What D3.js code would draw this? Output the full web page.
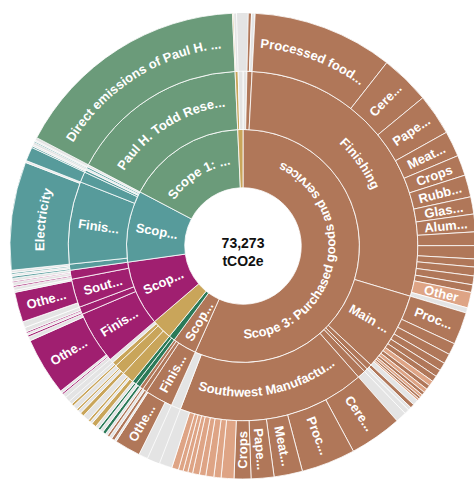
<!DOCTYPE html>
<html>
<head>
<meta charset="utf-8">
<script src="https://cdn.jsdelivr.net/npm/d3@7"></script>
<style>
  body { margin: 0; background: #fff; }
  svg { display: block; font-family: "Liberation Sans", Arial, sans-serif; }
  .label { fill: #fff; font-weight: 700; font-size: 13px; pointer-events: none; }
  .total { fill: #111; font-weight: 700; font-size: 14px; }
</style>
</head>
<body>
<div id="chart"></div>
<script>
// rows: [site, item, tCO2e, basis]; item null = site without breakdown
const purchasedGoods = [
  ["Minor sites", null, 265],
  ["Paul H. Todd Research Center", "Laboratory supplies", 163],
  ["Paul H. Todd Research Center", "Minor items", 183],
  ["Finishing", "Processed food products", 7145],
  ["Finishing", "Cereals and grains", 2524],
  ["Finishing", "Paper and packaging", 2096],
  ["Finishing", "Meats and poultry", 1303],
  ["Finishing", "Crops", 1038],
  ["Finishing", "Rubber and plastics", 1119],
  ["Finishing", "Glass products", 875],
  ["Finishing", "Aluminum products", 896],
  ["Finishing", "Chemicals", 692],
  ["Finishing", "Dairy products", 672],
  ["Finishing", "Textiles", 407],
  ["Finishing", "Machinery parts", 448],
  ["Finishing", "Office supplies", 448],
  ["Finishing", "Cleaning products", 387],
  ["Finishing", "Other", 794, "spend"],
  ["Finishing", "Minor items", 265],
  ["Main Production Facility", "Processed food products", 1649],
  ["Main Production Facility", "Cereals and grains", 590],
  ["Main Production Facility", "Paper and packaging", 509],
  ["Main Production Facility", "Meats and poultry", 407],
  ["Main Production Facility", "Crops", 366],
  ["Main Production Facility", "Rubber and plastics", 305],
  ["Main Production Facility", "Other", 265, "spend"],
  ["Main Production Facility", "Glass products", 224],
  ["Main Production Facility", "Chemicals", 204, "spend"],
  ["Main Production Facility", "Aluminum products", 163],
  ["Main Production Facility", "Textiles", 142, "spend"],
  ["Main Production Facility", "Dairy products", 122],
  ["Main Production Facility", "Cleaning products", 102, "spend"],
  ["Main Production Facility", "Minor items", 285],
  ["Warehouse", "Packaging", 204],
  ["Warehouse", "Minor items", 163],
  ["Office", "Minor items", 244],
  ["Distribution center", "Minor items", 550],
  ["Southwest Manufacturing", "Cereals and grains", 2666],
  ["Southwest Manufacturing", "Processed food products", 2748],
  ["Southwest Manufacturing", "Meats and poultry", 1445],
  ["Southwest Manufacturing", "Paper and packaging", 1160],
  ["Southwest Manufacturing", "Crops", 855],
  ["Southwest Manufacturing", "Other food products", 651, "spend"],
  ["Southwest Manufacturing", "Dairy products", 366, "spend"],
  ["Southwest Manufacturing", "Rubber and plastics", 407, "spend"],
  ["Southwest Manufacturing", "Glass products", 326, "spend"],
  ["Southwest Manufacturing", "Aluminum products", 346, "spend"],
  ["Southwest Manufacturing", "Chemicals", 244, "spend"],
  ["Southwest Manufacturing", "Textiles", 244, "spend"],
  ["Southwest Manufacturing", "Machinery parts", 244, "spend"],
  ["Southwest Manufacturing", "Office supplies", 346, "spend"],
  ["Southwest Manufacturing", "Minor items", 651],
  ["Minor sites", null, 651]
]

const capitalGoods = [
  ["Finishing", "Minor items", 468],
  ["Finishing", "Other machinery", 1323],
  ["Finishing", "Minor items", 102],
  ["Southwest Manufacturing", "Equipment", 163],
  ["Southwest Manufacturing", "Minor items", 142],
  ["Main Production Facility", "Equipment", 122],
  ["Main Production Facility", "Minor items", 122]
]

const wasteRows = [
  ["Finishing", "Landfill", 163],
  ["Finishing", "Minor items", 163],
  ["Southwest Manufacturing", "Landfill", 122],
  ["Southwest Manufacturing", "Minor items", 163]
]

const transportRows = [
  ["Finishing", "Road freight", 244],
  ["Finishing", "Minor items", 122],
  ["Finishing", "Rail freight", 122],
  ["Finishing", "Minor items", 326],
  ["Southwest Manufacturing", "Road freight", 204],
  ["Southwest Manufacturing", "Minor items", 163],
  ["Southwest Manufacturing", "Sea freight", 102],
  ["Southwest Manufacturing", "Minor items", 244],
  ["Main Production Facility", "Road freight", 122],
  ["Main Production Facility", "Minor items", 183],
  ["Minor sites", null, 265]
]

const fuelEnergyRows = [
  ["Finishing", "Minor items", 204],
  ["Finishing", "Electricity T&D losses", 81],
  ["Finishing", "Minor items", 122],
  ["Finishing", "Other fuels", 2951],
  ["Finishing", "Minor items", 204],
  ["Main Production Facility", "Natural gas", 102],
  ["Main Production Facility", "Minor items", 102],
  ["Main Production Facility", "Natural gas upstream", 81],
  ["Main Production Facility", "Minor items", 224],
  ["Southwest Manufacturing", "Minor items", 305],
  ["Southwest Manufacturing", "Other fuels", 1527],
  ["Southwest Manufacturing", "Minor items", 102],
  ["Paul H. Todd Research Center", "Minor items", 163],
  ["Paul H. Todd Research Center", "Electricity T&D losses", 81],
  ["Paul H. Todd Research Center", "Minor items", 163],
  ["Paul H. Todd Research Center", "Natural gas", 61],
  ["Paul H. Todd Research Center", "Minor items", 142]
]

const electricityRows = [
  ["Main Production Facility", "Electricity", 102],
  ["Main Production Facility", "Minor items", 102],
  ["Main Production Facility", "Electricity", 81],
  ["Main Production Facility", "Minor items", 122],
  ["Finishing", "Electricity", 5495],
  ["Finishing", "Minor items", 102],
  ["Southwest Manufacturing", "Electricity", 712],
  ["Paul H. Todd Research Center", "Electricity", 81],
  ["Paul H. Todd Research Center", "Minor items", 81],
  ["Minor sites", null, 122],
  ["Warehouse", "Electricity", 61],
  ["Warehouse", "Minor items", 61],
  ["Minor sites", null, 142]
]

const directRows = [
  ["Paul H. Todd Research Center", "Direct emissions of Paul H. Todd Research Center", 12151]
]

const travelRows = [
  ["Paul H. Todd Research Center", "Air travel", 61],
  ["Paul H. Todd Research Center", "Minor items", 142],
  ["Minor sites", null, 326]
]

const scopeNames = [
  "Scope 3: Purchased goods and services",
  "Scope 3: Capital goods",
  "Scope 3: Waste generated in operations",
  "Scope 3: Upstream transportation and distribution",
  "Scope 3: Fuel- and energy-related activities",
  "Scope 2: Purchased electricity",
  "Scope 1: Direct emissions",
  "Scope 3: Business travel"
]
const scopeRows = [purchasedGoods, capitalGoods, wasteRows, transportRows,
  fuelEnergyRows, electricityRows, directRows, travelRows]
const unit = "tCO2e"

const width = 474
const height = 479
const cx = 243
const cy = 246
const radius = 233
const ringW = radius / 4

const scopeColor = d3.scaleOrdinal()
  .domain(scopeNames)
  .range(["#b07759", "#b07759", "#2b7a58", "#c9a55a", "#a01f70", "#579b9b", "#6b9b7a", "#c9a55a"])
const spendColor = "#dea485"
const minorColor = "#e4e4e4"

function buildScope(name, rows) {
  const children = []
  let site = null
  rows.forEach(([siteName, item, value, basis]) => {
    if (item === null) {
      children.push({name: siteName, value, minor: true})
      site = null
      return
    }
    if (!site || site.name !== siteName) {
      site = {name: siteName, children: []}
      children.push(site)
    }
    site.children.push({name: item, value, basis, minor: item === "Minor items"})
  })
  return {name, children}
}

const root = d3.hierarchy({name: "Total", children: scopeNames.map((n, i) => buildScope(n, scopeRows[i]))})
  .sum(d => d.children ? 0 : d.value)

d3.partition().size([2 * Math.PI, 4])(root)

const svg = d3.select('#chart').append('svg')
  .attr('width', width)
  .attr('height', height)

const g = svg.append('g').attr('transform', `translate(${cx},${cy})`)

// grey backdrop for the rings, shows through where there is no breakdown
g.append('path')
  .attr('fill', minorColor)
  .attr('d', d3.arc()({innerRadius: ringW, outerRadius: radius, startAngle: 0, endAngle: 2 * Math.PI}))

const arc = d3.arc()
  .startAngle(d => d.x0)
  .endAngle(d => d.x1)
  .innerRadius(d => d.y0 * ringW)
  .outerRadius(d => d.y1 * ringW)

function fillOf(d) {
  if (d.data.minor) return minorColor
  const top = d.ancestors().find(a => a.depth === 1)
  if (d.data.basis === "spend") return spendColor
  return scopeColor(top.data.name)
}

const nodes = root.descendants().filter(d => d.depth > 0)

g.append('g').selectAll('path')
  .data(nodes)
  .join('path')
  .attr('d', arc)
  .attr('fill', fillOf)
  .attr('stroke', '#fff')
  .attr('stroke-width', 0.8)

// labels
const measure = svg.append('text').attr('class', 'label').attr('visibility', 'hidden')
const textWidth = s => measure.text(s).node().getComputedTextLength()

function fit(name, avail) {
  if (textWidth(name) <= avail) return name
  for (let n = name.length - 1; n > 0; n--) {
    const t = name.slice(0, n) + "..."
    if (textWidth(t) <= avail) return t
  }
  return null
}

const labelG = g.append('g')
const defs = svg.append('defs')

nodes.filter(d => !d.data.minor).forEach((d, i) => {
  const r0 = d.y0 * ringW
  const r1 = d.y1 * ringW
  const rm = (r0 + r1) / 2
  const innerArc = (d.x1 - d.x0) * r0
  if (innerArc < 11) return
  const tangential = innerArc > (r1 - r0)
  const mid = (d.x0 + d.x1) / 2

  if (tangential) {
    const flip = mid > Math.PI / 2 && mid < 3 * Math.PI / 2
    // baseline sits off the middle so the letters end up centred in the ring
    const pr = flip ? rm + 5 : rm - 5
    const txt = fit(d.data.name, (d.x1 - d.x0) * pr * 0.895)
    if (!txt) return
    const p = a => [pr * Math.sin(a), -pr * Math.cos(a)]
    const large = d.x1 - d.x0 > Math.PI ? 1 : 0
    const [s, e] = flip ? [p(d.x1), p(d.x0)] : [p(d.x0), p(d.x1)]
    const id = `lp${i}`
    defs.append('path')
      .attr('id', id)
      .attr('transform', `translate(${cx},${cy})`)
      .attr('d', `M${s[0]},${s[1]}A${pr},${pr} 0 ${large} ${flip ? 0 : 1} ${e[0]},${e[1]}`)
    svg.append('text')
      .attr('class', 'label')
      .append('textPath')
      .attr('href', `#${id}`)
      .attr('startOffset', '50%')
      .attr('text-anchor', 'middle')
      .text(txt)
  } else {
    const txt = fit(d.data.name, (r1 - r0) - 14)
    if (!txt) return
    const deg = mid * 180 / Math.PI
    labelG.append('text')
      .attr('class', 'label')
      .attr('text-anchor', 'middle')
      .attr('dy', '0.35em')
      .attr('transform', `rotate(${deg - 90}) translate(${rm},0) rotate(${deg > 180 ? 180 : 0})`)
      .text(txt)
  }
})

measure.remove()

// total in the middle
g.append('text')
  .attr('class', 'total')
  .attr('text-anchor', 'middle')
  .attr('y', 2)
  .text(d3.format(",")(root.value))
g.append('text')
  .attr('class', 'total')
  .attr('text-anchor', 'middle')
  .attr('y', 20)
  .text(unit)
</script>
</body>
</html>
